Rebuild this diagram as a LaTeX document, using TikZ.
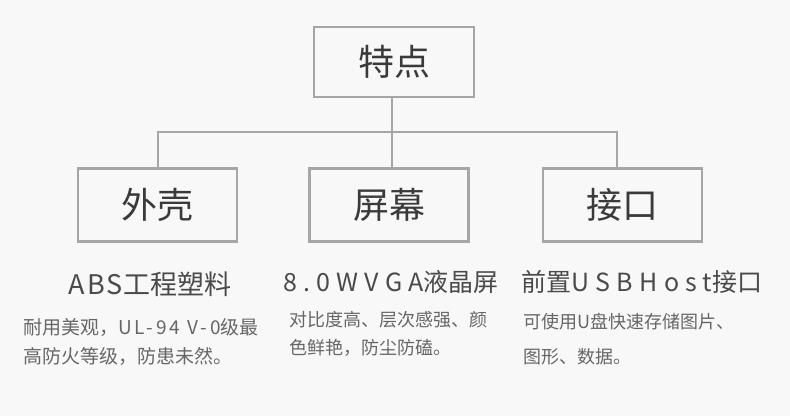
\documentclass[tikz,border=0pt]{standalone}
\usepackage{fontspec}
\setmainfont{Noto Sans CJK SC}
\newfontfamily\widefont{Noto Sans CJK SC}[LetterSpace=8]
\newfontfamily\midfont{Noto Sans CJK SC}[LetterSpace=25]
\newfontfamily\latinsp{Noto Sans CJK SC}[LetterSpace=15]
\usetikzlibrary{calc}
\usetikzlibrary{positioning}
\definecolor{bgcol}{HTML}{F8F8F8}
\definecolor{linecol}{HTML}{A6A6A6}
\definecolor{txtcol}{HTML}{3A3A3A}
\definecolor{titlecol}{HTML}{4A4A4A}
\definecolor{desccol}{HTML}{666666}

\begin{document}
\begin{tikzpicture}[x=1pt,y=-1pt,
    box/.style={rectangle, draw=linecol, line width=2.4pt, fill=bgcol,
      minimum width=159pt, minimum height=73pt, inner sep=0pt,
      text=txtcol, font=\fontsize{36}{40}\selectfont},
    title/.style={text=titlecol, inner sep=0pt, font=\fontsize{25}{28}\selectfont},
    desc/.style={text=desccol, inner sep=0pt, anchor=west, align=left}]
  \fill[bgcol] (0,0) rectangle (790,416);
  \useasboundingbox (0,0) rectangle (790,416);

  \node [box, minimum height=70pt, minimum width=160pt] (top) at (394,62) {特点};

  \node [box, below=69pt of top, xshift=-5pt] (screen) {屏幕};
  \node [box, left=70pt of screen] (shell) {外壳};
  \node [box, right=72pt of screen] (port) {接口};

  \coordinate (hub) at ($(top.south)+(-2,34)$);
  \draw [linecol, line width=2pt] (top.south -| hub) -- (hub);
  \draw [linecol, line width=2pt] (hub) -- (hub |- screen.north);
  \draw [linecol, line width=2pt] (shell.north) |- (hub) -| ([xshift=-5pt]port.north);

  \node [title, font=\fontsize{27}{30}\selectfont] (shelltitle) at (150,284) {{\widefont ABS}工程塑料};
  \node [title] (screentitle) at (391,282) {{\midfont 8.0WVGA}液晶屏};
  \node [title] (porttitle) at (642,282) {前置{\midfont USBHost}接口};

  \node [desc, font=\fontsize{19}{29}\selectfont] (shelldesc) at (23,341.5)
    {耐用美观，{\latinsp UL-94 V-0}级最\\高防火等级，防患未然。};
  \node [desc, font=\fontsize{18}{28}\selectfont] (screendesc) at (289,334)
    {对比度高、层次感强、颜\\色鲜艳，防尘防磕。};
  \node [desc, font=\fontsize{18}{35}\selectfont] (portdesc) at (523,339.5)
    {可使用{\latinsp U}盘快速存储图片、\\图形、数据。};
\end{tikzpicture}
\end{document}
